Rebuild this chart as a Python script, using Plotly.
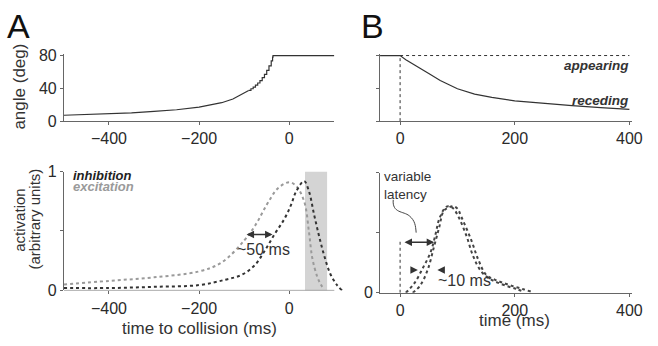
import plotly.graph_objects as go

# ---------------- data ----------------
# Panel A top: angle vs time to collision (smooth part, then stepped part near collision)
a_top_t = [-500, -450, -400, -350, -300, -250, -200, -175, -150, -125, -100, -90]
a_top_deg = [7.2, 7.9, 8.8, 10.1, 11.8, 13.9, 17.0, 19.3, 22.5, 27.0, 34.0, 37.5]
a_step_t = [-90, -85, -80, -75, -70, -65, -60, -55, -50, -45, -40, -37, -36, 100]
a_step_deg = [37.5, 39.5, 41.5, 44.0, 46.5, 49.5, 53.0, 57.0, 62.0, 67.5, 73.5, 78.0, 80, 80]

# Panel A bottom: activation
inh_t = [-500, -400, -300, -200, -142, -106, -77, -55, -33, -11, 4, 15, 33, 44, 55, 66, 77, 91, 105, 117]
inh_v = [0.02, 0.02, 0.03, 0.045, 0.09, 0.13, 0.21, 0.33, 0.47, 0.60, 0.72, 0.83, 0.92, 0.83, 0.64, 0.46, 0.30, 0.14, 0.05, 0.0]
exc_t = [-500, -400, -300, -200, -150, -100, -75, -50, -25, 0, 15, 33, 44, 51, 62, 70, 77]
exc_v = [0.05, 0.08, 0.11, 0.16, 0.235, 0.42, 0.55, 0.72, 0.86, 0.91, 0.88, 0.75, 0.485, 0.275, 0.116, 0.05, 0.01]
shade_t = [35, 84]

# Panel B top: appearing / receding
rec_t = [-35, 0, 10, 20, 35, 50, 70, 100, 130, 160, 200, 250, 300, 350, 400]
rec_deg = [80, 80, 75, 70.5, 64, 58, 49.5, 39.5, 33, 29, 24.8, 21.5, 19, 16.6, 14.3]
app_t = [0, 400]
app_deg = [80, 80]

# Panel B bottom: two responses
r1_t = [10, 25, 39, 53, 62, 68, 79, 85, 93, 102, 116, 127, 141, 155, 170, 190, 204, 215]
r1_v = [0, 0.08, 0.2, 0.335, 0.49, 0.61, 0.71, 0.72, 0.70, 0.63, 0.47, 0.31, 0.18, 0.12, 0.085, 0.05, 0.03, 0.01]
r2_t = [22, 35, 48, 59, 68, 76, 85, 93, 100, 107, 124, 136, 150, 165, 181, 200, 215, 228]
r2_v = [0, 0.06, 0.19, 0.38, 0.54, 0.68, 0.71, 0.72, 0.70, 0.63, 0.44, 0.28, 0.15, 0.11, 0.08, 0.05, 0.03, 0.01]

a_xticks = [-400, -200, 0]
b_xticks = [0, 200, 400]
top_yticks = [0, 40, 80]
bot_yticks = [0, 0.5, 1]

# ---------------- figure ----------------
W, H = 658, 346
FONT = "Liberation Sans, Arial, Helvetica, sans-serif"
NARROW = "Liberation Sans Narrow, Arial Narrow, Liberation Sans, sans-serif"
AX = "#666666"

def px(x):
    return x / W

def py(y):
    return 1 - y / H

fig = go.Figure()

fig.add_trace(go.Scatter(x=a_top_t, y=a_top_deg, mode="lines", line=dict(color="#333", width=1.2),
                         xaxis="x", yaxis="y", showlegend=False))
fig.add_trace(go.Scatter(x=a_step_t, y=a_step_deg, mode="lines", line=dict(color="#333", width=1.2, shape="hv"),
                         xaxis="x", yaxis="y", showlegend=False))
fig.add_trace(go.Scatter(x=exc_t, y=exc_v, mode="lines", line=dict(color="#9a9a9a", width=2, dash="3px,3px", shape="spline"),
                         xaxis="x2", yaxis="y2", showlegend=False))
fig.add_trace(go.Scatter(x=inh_t, y=inh_v, mode="lines", line=dict(color="#333", width=2, dash="3px,3px", shape="spline"),
                         xaxis="x2", yaxis="y2", showlegend=False))
fig.add_trace(go.Scatter(x=rec_t, y=rec_deg, mode="lines", line=dict(color="#333", width=1.2),
                         xaxis="x3", yaxis="y3", showlegend=False))
fig.add_trace(go.Scatter(x=app_t, y=app_deg, mode="lines", line=dict(color="#333", width=1, dash="3px,3px"),
                         xaxis="x3", yaxis="y3", showlegend=False))
fig.add_trace(go.Scatter(x=r1_t, y=r1_v, mode="lines", line=dict(color="#444", width=2, dash="3px,3px", shape="spline"),
                         xaxis="x4", yaxis="y4", showlegend=False))
fig.add_trace(go.Scatter(x=r2_t, y=r2_v, mode="lines", line=dict(color="#444", width=2, dash="3px,3px", shape="spline"),
                         xaxis="x4", yaxis="y4", showlegend=False))

common = dict(showgrid=False, zeroline=False, showline=True, linecolor=AX, linewidth=1,
              ticks="outside", ticklen=3, tickcolor=AX, tickwidth=1,
              tickfont=dict(family=FONT, size=16, color="#2a2a2a"), fixedrange=True)

xA = [px(65), px(340)]
xA2 = [px(65), px(65 + 625 * 275 / 600)]
xB = [px(386.5), px(643)]
yTop = [py(119), py(119 - 82 * 0.8625)]
yA2 = [py(297), py(172)]
yB2 = [py(299.5), py(173)]

fig.update_layout(
    width=W, height=H, margin=dict(l=0, r=0, t=0, b=0),
    paper_bgcolor="white", plot_bgcolor="white",
    xaxis=dict(common, domain=xA, range=[-500, 100], tickvals=a_xticks, anchor="y"),
    yaxis=dict(common, domain=yTop, range=[0, 82], tickvals=top_yticks, anchor="x"),
    xaxis2=dict(common, domain=xA2, range=[-500, 125], tickvals=a_xticks, anchor="y2", showline=False),
    yaxis2=dict(common, domain=yA2, range=[0, 1], tickvals=bot_yticks, ticktext=["0", "", "1"], anchor="x2"),
    xaxis3=dict(common, domain=xB, range=[-35, 405], tickvals=b_xticks, anchor="y3"),
    yaxis3=dict(common, domain=yTop, range=[0, 82], tickvals=top_yticks, showticklabels=False, anchor="x3"),
    xaxis4=dict(common, domain=xB, range=[-35, 405], tickvals=b_xticks, anchor="y4"),
    yaxis4=dict(common, domain=yB2, range=[0, 1], tickvals=bot_yticks, ticktext=["0", "", ""], anchor="x4"),
)

shapes = [
    dict(type="rect", xref="x2", yref="y2", x0=shade_t[0], x1=shade_t[1], y0=0, y1=1,
         fillcolor="#d4d4d4", line=dict(width=0), layer="below"),
    dict(type="line", xref="x2", yref="y2", x0=-500, x1=100, y0=0, y1=0, line=dict(color=AX, width=1)),
    dict(type="line", xref="x3", yref="y3", x0=0, x1=0, y0=0, y1=80, line=dict(color="#333", width=1, dash="3px,3px")),
    dict(type="line", xref="x4", yref="y4", x0=0, x1=0, y0=0, y1=0.44, line=dict(color="#333", width=1, dash="3px,3px")),
    dict(type="path", xref="x4", yref="y4",
         path="M -12,0.773 C -14,0.66 6,0.68 16,0.64 C 26,0.60 27,0.56 28,0.50",
         line=dict(color="#444", width=1)),
]

def T(text, x, y, size=16, color="#333", angle=0, xanchor="center", family=FONT, align="center"):
    return dict(text=text, x=px(x), y=py(y), xref="paper", yref="paper", showarrow=False,
                font=dict(family=family, size=size, color=color), textangle=angle,
                xanchor=xanchor, yanchor="middle", align=align)

ann = [
    T("A", 19, 19, size=34, color="#111"),
    T("B", 378.5, 19, size=34, color="#111"),
    T("angle (deg)", 20, 83, size=17, angle=-90),
    T("activation", 19, 223, size=15, angle=-90, family=NARROW),
    T("(arbitrary units)", 35, 222, size=15, angle=-90, family=NARROW),
    T("time to collision (ms)", 203, 337, size=17),
    T("time (ms)", 523, 329, size=17),
    T("<b><i>inhibition</i></b>", 72, 176, size=13, color="#222", xanchor="left"),
    T("<b><i>excitation</i></b>", 72, 188, size=13, color="#9a9a9a", xanchor="left"),
    T("<b><i>appearing</i></b>", 642, 60, size=13.5, color="#333", xanchor="right"),
    T("<b><i>receding</i></b>", 642, 97, size=13.5, color="#333", xanchor="right"),
    T("~50 ms", 268, 254, size=16),
    T("~10 ms", 472, 287, size=16),
    T("variable<br>latency", 389, 187, size=13.5, xanchor="left", align="left"),
    # double-headed arrows
    dict(x=-37, y=0.47, ax=-98, ay=0.47, xref="x2", yref="y2", axref="x2", ayref="y2", text="",
         showarrow=True, arrowhead=2, arrowside="end+start", arrowsize=1, arrowwidth=1.5, arrowcolor="#333"),
    dict(x=59.5, y=0.42, ax=5, ay=0.42, xref="x4", yref="y4", axref="x4", ayref="y4", text="",
         showarrow=True, arrowhead=2, arrowside="end+start", arrowsize=1, arrowwidth=1.5, arrowcolor="#333"),
    # ~10 ms arrowheads
    dict(x=31, y=0.19, ax=-4, ay=0, xref="x4", yref="y4", text="", showarrow=True, arrowhead=2,
         arrowsize=1, arrowwidth=1.5, arrowcolor="#333", standoff=0),
    dict(x=65, y=0.19, ax=4, ay=0, xref="x4", yref="y4", text="", showarrow=True, arrowhead=2,
         arrowsize=1, arrowwidth=1.5, arrowcolor="#333", standoff=0),
]

fig.update_layout(shapes=shapes, annotations=ann)
fig.write_html("out.html")
